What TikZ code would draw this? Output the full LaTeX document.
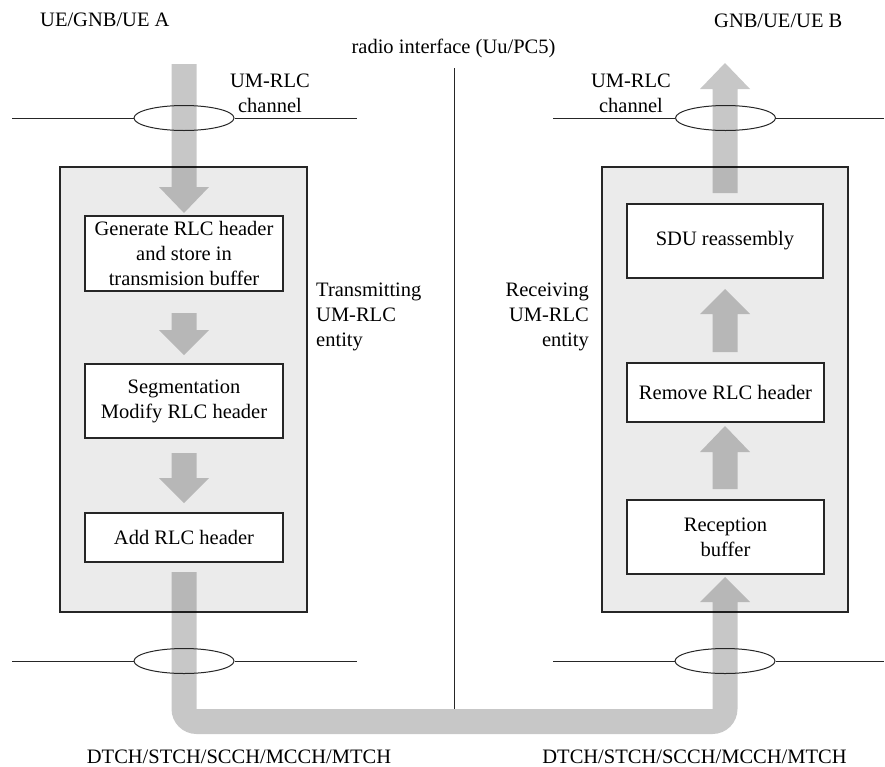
\documentclass[tikz,border=0pt]{standalone}
\usepackage{fontspec}
\setmainfont{Liberation Serif}
\usetikzlibrary{shapes.geometric}
\newcommand\flowarrow[4]{%
  \fill[flow] ({#1-12.5},#2) -- ({#1+12.5},#2) -- ({#1+12.5},#3) -- ({#1+25},#3)
    -- (#1,#4) -- ({#1-25},#3) -- ({#1-12.5},#3) -- cycle;}
\begin{document}
\begin{tikzpicture}[x=1pt,y=-1pt,
  txt/.style={font=\fontsize{20.5}{25}\selectfont, inner sep=0pt, align=center},
  outer/.style={draw=black!85, line width=1.1pt, fill=black!8, inner sep=0pt},
  proc/.style={draw=black!85, line width=1.1pt, fill=white, inner sep=0pt, align=center,
    font=\fontsize{20.5}{25}\selectfont},
  flow/.style={fill=black, fill opacity=0.22},
  chan/.style={draw=black!85, line width=1pt},
  ring/.style={draw=black!85, line width=1pt, ellipse, minimum width=100pt, minimum height=25pt, inner sep=0pt}]
\useasboundingbox (0,0) rectangle (885,766);

% entity frames
\node[outer, minimum width=247pt, minimum height=445pt] (tx) at (183.5,389.5) {};
\node[outer, minimum width=246pt, minimum height=445pt] (rx) at (725,389.5) {};

% flow arrows (left, downwards)
\flowarrow{184}{64}{187}{213}
\flowarrow{184}{313}{330}{355}
\flowarrow{184}{453}{478}{503}
% flow arrows (right, upwards)
\flowarrow{725}{193}{89}{63}
\flowarrow{725}{352}{314}{289}
\flowarrow{725}{489}{452}{426}
% bottom pipe
\fill[flow] (171.5,572) -- (171.5,709) .. controls (171.5,722.8) and (182.7,734) .. (196.5,734)
  -- (712.5,734) .. controls (726.3,734) and (737.5,722.8) .. (737.5,709)
  -- (737.5,602) -- (750,602) -- (725,577) -- (700,602) -- (712.5,602)
  -- (712.5,709) -- (196.5,709) -- (196.5,572) -- cycle;

% process boxes
\node[proc, minimum width=198pt, minimum height=75pt] (gen) at (184,253.5)
  {Generate RLC header\\and store in\\transmision buffer};
\node[proc, minimum width=198pt, minimum height=74pt] (seg) at (184,401)
  {Segmentation\\Modify RLC header};
\node[proc, minimum width=198pt, minimum height=49pt] (add) at (184,537.5)
  {Add RLC header};
\node[proc, minimum width=196pt, minimum height=74pt] (sdu) at (725,241)
  {SDU reassembly};
\node[proc, minimum width=197pt, minimum height=59pt] (rem) at (725.5,392.5)
  {Remove RLC header};
\node[proc, minimum width=197pt, minimum height=74pt] (rcv) at (725.5,537)
  {Reception\\buffer};

% channels
\node[ring] (e1) at (184,118) {};
\node[ring] (e2) at (725.5,118) {};
\node[ring] (e3) at (184,661) {};
\node[ring] (e4) at (725,661) {};
\coordinate (a1) at (12,118);  \coordinate (b1) at (357,118);
\coordinate (a2) at (553,118); \coordinate (b2) at (884,118);
\coordinate (a3) at (12,661);  \coordinate (b3) at (357,661);
\coordinate (a4) at (553,661); \coordinate (b4) at (884,661);
\draw[chan] (a1) -- (e1.west); \draw[chan] (e1.east) -- (b1);
\draw[chan] (a2) -- (e2.west); \draw[chan] (e2.east) -- (b2);
\draw[chan] (a3) -- (e3.west); \draw[chan] (e3.east) -- (b3);
\draw[chan] (a4) -- (e4.west); \draw[chan] (e4.east) -- (b4);

% radio interface
\coordinate (vt) at (454,68); \coordinate (vb) at (454,709);
\draw[chan] (vt) -- (vb);

% labels
\node[txt, anchor=base west] (ueA) at (40,26) {UE/GNB/UE A};
\node[txt, anchor=base west] (ueB) at (714,27) {GNB/UE/UE B};
\node[txt, anchor=base] (radio) at (453.5,53) {radio interface (Uu/PC5)};
\node[txt, anchor=north] (ch1) at (270,74) {UM-RLC\\channel};
\node[txt, anchor=north] (ch2) at (631,74) {UM-RLC\\channel};
\node[txt, anchor=north west, align=left] (txl) at (316,283) {Transmitting\\UM-RLC\\entity};
\node[txt, anchor=north east, align=right] (rxl) at (589,283) {Receiving\\UM-RLC\\entity};
\node[txt, anchor=base] (d1) at (239,763) {DTCH/STCH/SCCH/MCCH/MTCH};
\node[txt, anchor=base] (d2) at (694.5,763) {DTCH/STCH/SCCH/MCCH/MTCH};
\end{tikzpicture}
\end{document}
